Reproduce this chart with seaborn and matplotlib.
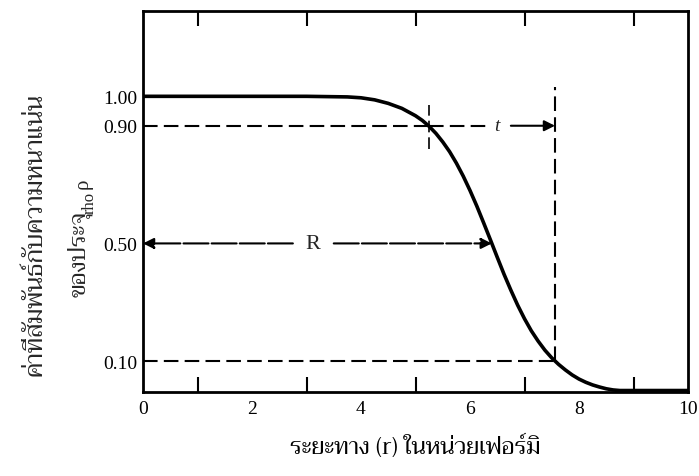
import matplotlib
matplotlib.use("Agg")
import matplotlib.pyplot as plt
import numpy as np
import pandas as pd
import seaborn as sns

# charge density curve
r_fm = [0.0, 1.0, 2.0, 3.0, 3.75, 4.0, 4.25, 4.5, 4.75, 5.0, 5.125, 5.25, 5.375,
        5.5, 5.625, 5.75, 5.875, 6.0, 6.125, 6.25, 6.375, 6.5, 6.625, 6.75,
        6.875, 7.0, 7.125, 7.25, 7.375, 7.5, 7.625, 7.75, 7.875, 8.0, 8.125,
        8.25, 8.375, 8.5, 8.625, 8.75, 9.0, 9.5, 10.0]
rho = [1.0, 1.0, 1.0, 1.0, 0.998, 0.995, 0.988, 0.976, 0.959, 0.934, 0.918, 0.898,
       0.874, 0.845, 0.812, 0.773, 0.729, 0.680, 0.627, 0.570, 0.512, 0.453,
       0.395, 0.341, 0.290, 0.244, 0.203, 0.168, 0.137, 0.111, 0.089, 0.070,
       0.053, 0.039, 0.028, 0.019, 0.012, 0.006, 0.002, 0.0, 0.0, 0.0, 0.0]

tick_levels = [1.00, 0.90, 0.50, 0.10]
tick_labels = ["1.00", "0.90", "0.50", "0.10"]
x_major = [0, 2, 4, 6, 8, 10]
x_minor = [1, 2, 3, 4, 5, 6, 7, 8, 9]

r_half = 6.4     # R, where rho = 0.5
r_90 = 5.24      # rho = 0.9
r_10 = 7.56      # rho = 0.1

thai = ["Trirong", "DejaVu Serif"]
num_font = "Liberation Serif"

sns.set_theme(style="white")
plt.rcParams["font.family"] = ["Liberation Serif", "DejaVu Serif"]

df = pd.DataFrame({"r": r_fm, "rho": rho})

fig = plt.figure(figsize=(6.99, 4.77), dpi=100)
ax = fig.add_axes([143 / 699, 1 - 393 / 477, (688 - 143) / 699, (393 - 12) / 477])

sns.lineplot(data=df, x="r", y="rho", ax=ax, color="black", linewidth=2.6)

ax.set_xlim(0, 10)
ax.set_ylim(-0.005, 1.29)

dash = (0, (7, 3))
ax.plot([0, r_90], [0.90, 0.90], color="black", lw=1.5, ls=dash)
ax.plot([0, r_10], [0.10, 0.10], color="black", lw=1.5, ls=dash)
ax.plot([r_10, r_10], [0.10, 1.03], color="black", lw=1.5, ls=dash)
ax.plot([r_90, r_90], [0.82, 0.97], color="black", lw=1.2, ls=dash)

# t : 10-90 thickness
ax.plot([r_90, 6.3], [0.90, 0.90], color="black", lw=1.5, ls=dash)
ax.annotate("", xy=(r_10, 0.90), xytext=(6.75, 0.90),
            arrowprops=dict(arrowstyle="-|>", color="black", lw=1.5,
                            mutation_scale=16, shrinkA=0, shrinkB=0))
ax.text(6.5, 0.90, "t", ha="center", va="center", fontsize=14,
        style="italic", family=num_font)

# R : half-density radius
arrow = dict(arrowstyle="-|>", color="black", lw=1.5, mutation_scale=16,
             shrinkA=0, shrinkB=0, linestyle=(0, (12, 1.5)))
ax.annotate("", xy=(0.0, 0.50), xytext=(2.75, 0.50), arrowprops=arrow)
ax.annotate("", xy=(r_half, 0.50), xytext=(3.5, 0.50), arrowprops=arrow)
ax.text(3.12, 0.50, "R", ha="center", va="center", fontsize=16, family=num_font)

ax.set_xticks(x_major)
ax.set_xticklabels([str(v) for v in x_major], fontsize=14, family=num_font)
ax.set_xticks(x_minor, minor=True)
ax.set_yticks(tick_levels)
ax.set_yticklabels(tick_labels, fontsize=14, family=num_font)
ax.tick_params(axis="x", which="both", direction="in", length=0, pad=6,
               colors="black")
ax.tick_params(axis="x", which="minor", length=11, width=1.5, top=True, bottom=True)
ax.tick_params(axis="y", which="both", length=0, pad=4, colors="black")

for side in ax.spines.values():
    side.set_color("black")
    side.set_linewidth(2.0)

ax.set_xlabel("ระยะทาง (r) ในหน่วยเฟอร์มิ", fontsize=17, family=thai,
              labelpad=12, color="black")
fig.text(35 / 699, 1 - 235 / 477, "ค่าที่สัมพันธ์กับความหนาแน่น",
         rotation=90, ha="center", va="center", fontsize=18, family=thai)
fig.text(80 / 699, 1 - 254 / 477, "ของประจุ",
         rotation=90, ha="center", va="center", fontsize=17, family=thai)
fig.text(83 / 699, 1 - 184 / 477, "ρ",
         rotation=90, ha="center", va="center", fontsize=15, family=num_font)

fig.savefig("out.png", dpi=100)
